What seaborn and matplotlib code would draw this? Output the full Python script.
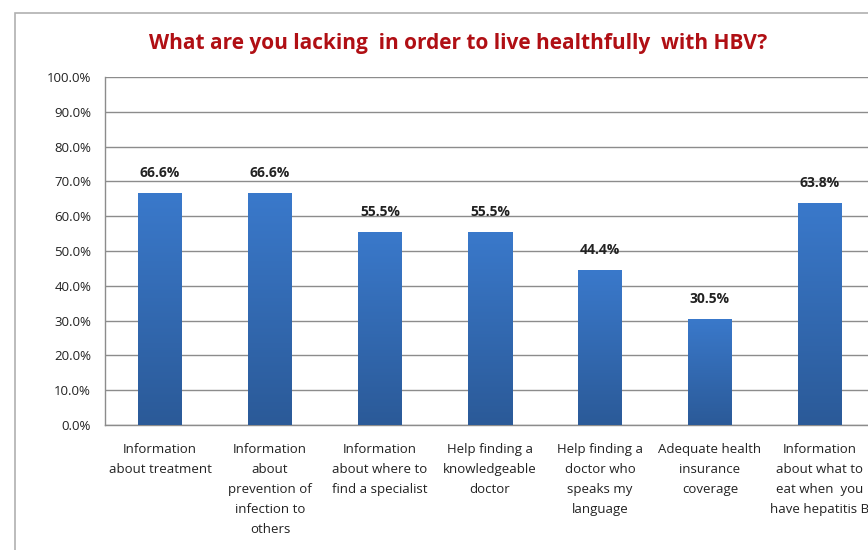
import numpy as np
import pandas as pd
import seaborn as sns
import matplotlib.pyplot as plt
from matplotlib.patches import Rectangle
from matplotlib.ticker import PercentFormatter

# --- data ---
CATEGORIES = [
    "Information\nabout treatment",
    "Information\nabout\nprevention of\ninfection to\nothers",
    "Information\nabout where to\nfind a specialist",
    "Help finding a\nknowledgeable\ndoctor",
    "Help finding a\ndoctor who\nspeaks my\nlanguage",
    "Adequate health\ninsurance\ncoverage",
    "Information\nabout what to\neat when  you\nhave hepatitis B",
]
PERCENTS = [66.6, 66.6, 55.5, 55.5, 44.4, 30.5, 63.8]
TITLE = "What are you lacking  in order to live healthfully  with HBV?"

sns.set_theme(style="white")
plt.rcParams['font.family'] = ['Open Sans', 'DejaVu Sans']

df = pd.DataFrame({'category': CATEGORIES, 'pct': PERCENTS})

fig = plt.figure(figsize=(8.68, 5.5), dpi=100)
ax = fig.add_axes([105 / 868, 125 / 550, 1 - 105 / 868, 348 / 550])

# outer chart frame (the reference is a cropped screenshot)
fig.patches.append(Rectangle((15 / 868, -0.1), 1.2, 537 / 550 + 0.1,
                             transform=fig.transFigure, fill=False,
                             edgecolor='#b0b0b0', linewidth=1.2, zorder=0))

sns.barplot(data=df, x='category', y='pct', ax=ax, width=0.4,
            color='#3670bd', edgecolor='none', zorder=2)

# vertical gradient on each bar
grad = np.linspace(0, 1, 256).reshape(-1, 1)
cmap = plt.matplotlib.colors.LinearSegmentedColormap.from_list(
    'bar', ['#2b5a98', '#3a79cb'])
for patch in ax.patches:
    x0, y0 = patch.get_x(), patch.get_y()
    w, h = patch.get_width(), patch.get_height()
    im = ax.imshow(grad, extent=[x0, x0 + w, y0, y0 + h], origin='lower',
                   cmap=cmap, aspect='auto', zorder=3)
    im.set_clip_path(patch)
    ax.text(x0 + w / 2, y0 + h + 3.8, f"{h:.1f}%", ha='center', va='bottom',
            fontsize=10, fontweight='bold', color='#222222', zorder=4)

ax.set_ylim(0, 100)
ax.set_xlim(-0.5, (868 - 105) / 110 - 0.5)
ax.set_yticks(np.arange(0, 101, 10))
ax.yaxis.set_major_formatter(PercentFormatter(decimals=1))
ax.yaxis.grid(True, color='#8c8c8c', linewidth=1.0, zorder=0)
ax.set_axisbelow(True)

for side in ['top', 'right']:
    ax.spines[side].set_visible(False)
for side in ['left', 'bottom']:
    ax.spines[side].set_color('#8c8c8c')
    ax.spines[side].set_linewidth(1.0)

ax.tick_params(axis='y', labelsize=9.5, labelcolor='#222222', pad=10, length=0)
ax.tick_params(axis='x', labelsize=9.5, labelcolor='#222222', pad=13, length=0)
for lbl in ax.get_xticklabels():
    lbl.set_linespacing(1.7)
    lbl.set_va('top')

ax.set_xlabel('')
ax.set_ylabel('')

fig.text(458 / 868, 1 - 43 / 550, TITLE, ha='center', va='center',
         fontsize=15, fontweight='bold', color='#b00f14')

fig.savefig('out.png', dpi=100)
plt.close(fig)
